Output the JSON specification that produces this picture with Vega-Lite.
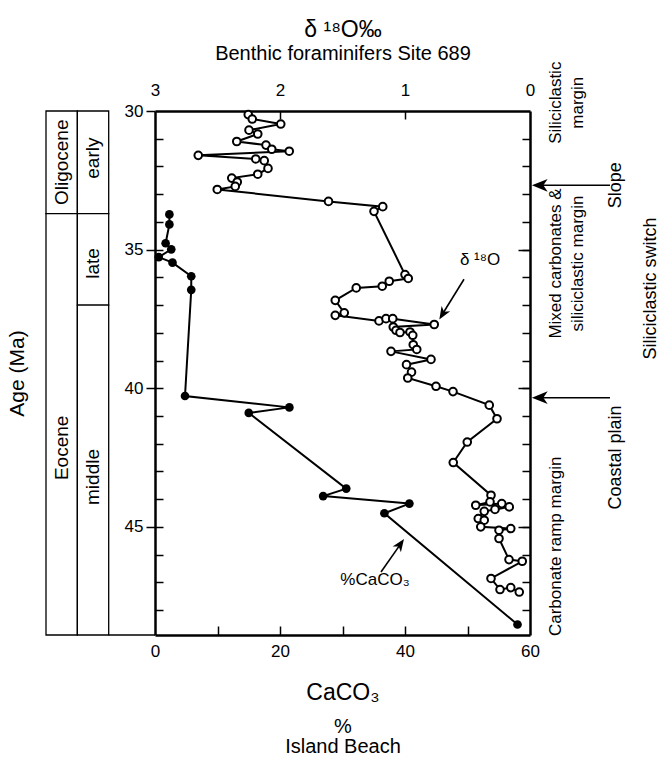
{
  "$schema": "https://vega.github.io/schema/vega-lite/v6.json",
  "width": 375,
  "height": 524,
  "autosize": {"type": "none"},
  "padding": {"left": 155, "top": 111, "right": 132, "bottom": 122},
  "background": "white",
  "config": {
    "font": "Liberation Sans",
    "view": {"stroke": null},
    "axis": {"labelFont": "Liberation Sans", "titleFont": "Liberation Sans", "labelColor": "black", "titleColor": "black", "tickColor": "black", "domainColor": "black", "titleFontWeight": "normal", "grid": false, "labelFlush": false, "labelOverlap": false, "labelBound": false}
  },
  "datasets": {
    "caco3": [
      {"i": 1, "caco3": 2.3, "age": 33.73}, {"i": 2, "caco3": 2.3, "age": 34.09}, {"i": 3, "caco3": 1.7, "age": 34.77}, {"i": 4, "caco3": 2.6, "age": 34.99},
      {"i": 5, "caco3": 0.6, "age": 35.27}, {"i": 6, "caco3": 2.8, "age": 35.47}, {"i": 7, "caco3": 5.8, "age": 35.96}, {"i": 8, "caco3": 5.8, "age": 36.45},
      {"i": 9, "caco3": 4.8, "age": 40.28}, {"i": 10, "caco3": 21.5, "age": 40.69}, {"i": 11, "caco3": 15.0, "age": 40.89}, {"i": 12, "caco3": 30.6, "age": 43.62},
      {"i": 13, "caco3": 26.9, "age": 43.89}, {"i": 14, "caco3": 40.7, "age": 44.16}, {"i": 15, "caco3": 36.7, "age": 44.51}, {"i": 16, "caco3": 58.0, "age": 48.52}
    ],
    "d18o": [
      {"i": 1, "d18o": 2.254, "age": 30.13}, {"i": 2, "d18o": 2.222, "age": 30.29}, {"i": 3, "d18o": 1.994, "age": 30.47}, {"i": 4, "d18o": 2.248, "age": 30.69},
      {"i": 5, "d18o": 2.178, "age": 30.83}, {"i": 6, "d18o": 2.346, "age": 31.10}, {"i": 7, "d18o": 2.112, "age": 31.23}, {"i": 8, "d18o": 2.066, "age": 31.38},
      {"i": 9, "d18o": 1.926, "age": 31.45}, {"i": 10, "d18o": 2.654, "age": 31.60}, {"i": 11, "d18o": 2.194, "age": 31.73}, {"i": 12, "d18o": 2.126, "age": 31.79},
      {"i": 13, "d18o": 2.096, "age": 32.07}, {"i": 14, "d18o": 2.178, "age": 32.28}, {"i": 15, "d18o": 2.386, "age": 32.42}, {"i": 16, "d18o": 2.342, "age": 32.56},
      {"i": 17, "d18o": 2.358, "age": 32.72}, {"i": 18, "d18o": 2.502, "age": 32.83}, {"i": 19, "d18o": 1.612, "age": 33.26}, {"i": 20, "d18o": 1.178, "age": 33.45},
      {"i": 21, "d18o": 1.248, "age": 33.62}, {"i": 22, "d18o": 1.000, "age": 35.90}, {"i": 23, "d18o": 0.974, "age": 36.04}, {"i": 24, "d18o": 1.126, "age": 36.14},
      {"i": 25, "d18o": 1.182, "age": 36.32}, {"i": 26, "d18o": 1.390, "age": 36.38}, {"i": 27, "d18o": 1.558, "age": 36.83}, {"i": 28, "d18o": 1.486, "age": 37.28},
      {"i": 29, "d18o": 1.558, "age": 37.37}, {"i": 30, "d18o": 1.208, "age": 37.57}, {"i": 31, "d18o": 1.152, "age": 37.49}, {"i": 32, "d18o": 1.098, "age": 37.49},
      {"i": 33, "d18o": 0.766, "age": 37.70}, {"i": 34, "d18o": 1.094, "age": 37.79}, {"i": 35, "d18o": 1.072, "age": 37.91}, {"i": 36, "d18o": 1.040, "age": 37.99},
      {"i": 37, "d18o": 0.960, "age": 37.97}, {"i": 38, "d18o": 0.938, "age": 38.09}, {"i": 39, "d18o": 0.934, "age": 38.43}, {"i": 40, "d18o": 0.906, "age": 38.60},
      {"i": 41, "d18o": 1.112, "age": 38.67}, {"i": 42, "d18o": 0.792, "age": 38.96}, {"i": 43, "d18o": 0.988, "age": 39.15}, {"i": 44, "d18o": 0.948, "age": 39.42},
      {"i": 45, "d18o": 0.978, "age": 39.63}, {"i": 46, "d18o": 0.752, "age": 39.93}, {"i": 47, "d18o": 0.616, "age": 40.12}, {"i": 48, "d18o": 0.326, "age": 40.61},
      {"i": 49, "d18o": 0.264, "age": 41.10}, {"i": 50, "d18o": 0.502, "age": 41.94}, {"i": 51, "d18o": 0.614, "age": 42.68}, {"i": 52, "d18o": 0.312, "age": 43.86},
      {"i": 53, "d18o": 0.320, "age": 44.10}, {"i": 54, "d18o": 0.434, "age": 44.22}, {"i": 55, "d18o": 0.226, "age": 44.16}, {"i": 56, "d18o": 0.166, "age": 44.28},
      {"i": 57, "d18o": 0.280, "age": 44.37}, {"i": 58, "d18o": 0.366, "age": 44.44}, {"i": 59, "d18o": 0.414, "age": 44.70}, {"i": 60, "d18o": 0.366, "age": 44.76},
      {"i": 61, "d18o": 0.394, "age": 45.00}, {"i": 62, "d18o": 0.154, "age": 45.06}, {"i": 63, "d18o": 0.248, "age": 45.12}, {"i": 64, "d18o": 0.248, "age": 45.42},
      {"i": 65, "d18o": 0.168, "age": 46.18}, {"i": 66, "d18o": 0.062, "age": 46.24}, {"i": 67, "d18o": 0.312, "age": 46.86}, {"i": 68, "d18o": 0.240, "age": 47.26},
      {"i": 69, "d18o": 0.154, "age": 47.19}, {"i": 70, "d18o": 0.086, "age": 47.35}
    ],
    "boxes": [
      {"col": "epoch", "a1": 30, "a2": 33.7}, {"col": "epoch", "a1": 33.7, "a2": 48.9},
      {"col": "sub", "a1": 30, "a2": 33.7}, {"col": "sub", "a1": 33.7, "a2": 37.0}, {"col": "sub", "a1": 37.0, "a2": 48.9}
    ],
    "stratlabels": [
      {"col": "epoch", "mid": 31.85, "t": "Oligocene"}, {"col": "epoch", "mid": 42.15, "t": "Eocene"},
      {"col": "sub", "mid": 31.7, "t": "early"}, {"col": "sub", "mid": 35.5, "t": "late"}, {"col": "sub", "mid": 43.2, "t": "middle"}
    ],
    "lines": [
      {"x1": 72.8, "x2": 61.5, "a1": 32.68, "a2": 32.68},
      {"x1": 72.8, "x2": 61.5, "a1": 40.34, "a2": 40.34},
      {"x1": 49.44, "x2": 46.2, "a1": 36.07, "a2": 37.25},
      {"x1": 36.16, "x2": 39.2, "a1": 46.63, "a2": 45.65},
      {"x1": -7.42, "x2": 0, "a1": 48.9, "a2": 48.9}
    ],
    "vnotes1": [
      {"t": "Siliciclastic", "x": 64.2, "age": 29.7},
      {"t": "margin", "x": 67.7, "age": 29.7},
      {"t": "Mixed carbonates &", "x": 64.2, "age": 35.5},
      {"t": "siliciclastic margin", "x": 67.7, "age": 35.5},
      {"t": "Carbonate ramp margin", "x": 64.2, "age": 45.7}
    ],
    "vnotes2": [
      {"t": "Slope", "x": 73.8, "age": 32.68},
      {"t": "Coastal plain", "x": 73.8, "age": 42.5},
      {"t": "Siliciclastic switch", "x": 79.4, "age": 36.4}
    ],
    "hnotes": [
      {"t": "δ ¹⁸O", "x": 52.0, "age": 35.38},
      {"t": "%CaCO₃", "x": 35.2, "age": 46.92}
    ],
    "headsLeft": [
      {"x": 60.3, "age": 32.68}, {"x": 60.3, "age": 40.34}
    ],
    "headD": [{"x": 45.49, "age": 37.52}],
    "headC": [{"x": 39.84, "age": 45.44}]
  },
  "layer": [
    {
      "data": {"name": "boxes"},
      "mark": {"type": "rect", "fill": "white", "stroke": "black", "strokeWidth": 1.3},
      "encoding": {
        "x": {"field": "col", "type": "nominal", "scale": {"domain": ["epoch", "sub"], "range": [-109, -46.3], "paddingInner": 0, "paddingOuter": 0}, "axis": null},
        "y": {"field": "a1", "type": "quantitative", "scale": {"domain": [30, 48.9], "reverse": true, "nice": false, "zero": false},
              "axis": {"orient": "left", "values": [31, 32, 33, 34, 35, 36, 37, 38, 39, 40, 41, 42, 43, 44, 45, 46, 47, 48], "tickSize": -8, "tickWidth": 1.5, "labels": false, "domain": false, "title": null}},
        "y2": {"field": "a2"}
      }
    },
    {
      "data": {"name": "stratlabels"},
      "mark": {"type": "text", "angle": 270, "fontSize": 19, "baseline": "middle", "align": "center", "color": "black"},
      "encoding": {
        "x": {"field": "col", "type": "nominal", "scale": {"domain": ["epoch", "sub"], "range": [-109, -46.3], "paddingInner": 0, "paddingOuter": 0}, "axis": null},
        "y": {"field": "mid", "type": "quantitative", "scale": {"domain": [30, 48.9], "reverse": true, "nice": false, "zero": false}, "axis": null},
        "text": {"field": "t"}
      }
    },
    {
      "data": {"name": "caco3"},
      "encoding": {
        "x": {"field": "caco3", "type": "quantitative", "scale": {"domain": [0, 60], "nice": false, "zero": false},
              "axis": {"orient": "bottom", "values": [0, 20, 40, 60], "ticks": false, "labelFontSize": 17, "labelPadding": 8, "domainWidth": 2.5, "title": "CaCO₃", "titleFontSize": 23, "titlePadding": 22}},
        "y": {"field": "age", "type": "quantitative", "scale": {"domain": [30, 48.9], "reverse": true, "nice": false, "zero": false},
              "axis": {"orient": "left", "values": [30, 35, 40, 45], "tickSize": 9, "tickWidth": 1.5, "labelFontSize": 17, "labelPadding": 3, "domainWidth": 2.5, "title": "Age (Ma)", "titleFontSize": 21, "titlePadding": 97}},
        "order": {"field": "i", "type": "quantitative"}
      },
      "layer": [
        {"mark": {"type": "line", "color": "black", "strokeWidth": 2}},
        {"mark": {"type": "point", "shape": "circle", "filled": true, "color": "black", "opacity": 1, "size": 75}}
      ]
    },
    {
      "data": {"name": "d18o"},
      "encoding": {
        "x": {"field": "d18o", "type": "quantitative", "scale": {"domain": [0, 3], "reverse": true, "nice": false, "zero": false},
              "axis": {"orient": "top", "values": [0, 1, 2, 3], "ticks": false, "labelFontSize": 17, "labelPadding": 12, "domainWidth": 2.5, "title": "Benthic foraminifers Site 689", "titleFontSize": 20, "titlePadding": 18}},
        "y": {"field": "age", "type": "quantitative", "scale": {"domain": [30, 48.9], "reverse": true, "nice": false, "zero": false},
              "axis": {"orient": "right", "values": [31, 32, 33, 34, 35, 36, 37, 38, 39, 40, 41, 42, 43, 44, 45, 46, 47, 48], "tickSize": -8, "tickWidth": 1.5, "labels": false, "domainWidth": 2.5, "title": null}},
        "order": {"field": "i", "type": "quantitative"}
      },
      "layer": [
        {"mark": {"type": "line", "color": "black", "strokeWidth": 2}},
        {"mark": {"type": "point", "shape": "circle", "filled": true, "fill": "white", "stroke": "black", "strokeWidth": 2, "opacity": 1, "size": 58}}
      ]
    },
    {
      "data": {"name": "lines"},
      "mark": {"type": "rule", "color": "black", "strokeWidth": 1.6},
      "encoding": {
        "x": {"field": "x1", "type": "quantitative", "scale": {"domain": [0, 60], "nice": false, "zero": false},
              "axis": {"orient": "bottom", "values": [10, 20, 30, 40, 50], "tickSize": -9, "tickWidth": 1.5, "labels": false, "domain": false, "title": null}},
        "x2": {"field": "x2"},
        "y": {"field": "a1", "type": "quantitative", "scale": {"domain": [30, 48.9], "reverse": true, "nice": false, "zero": false}, "axis": null},
        "y2": {"field": "a2"}
      }
    },
    {
      "data": {"name": "vnotes1"},
      "mark": {"type": "text", "angle": 270, "fontSize": 17, "baseline": "middle", "align": "center", "color": "black"},
      "encoding": {
        "x": {"field": "x", "type": "quantitative", "scale": {"domain": [0, 60], "nice": false, "zero": false},
              "axis": {"orient": "bottom", "domain": false, "ticks": false, "labels": false, "title": ["%", "Island Beach"], "titleFontSize": 20, "titleLineHeight": 20, "titlePadding": 81}},
        "y": {"field": "age", "type": "quantitative", "scale": {"domain": [30, 48.9], "reverse": true, "nice": false, "zero": false}, "axis": null},
        "text": {"field": "t"}
      }
    },
    {
      "data": {"name": "vnotes2"},
      "mark": {"type": "text", "angle": 270, "fontSize": 18, "baseline": "middle", "align": "center", "color": "black"},
      "encoding": {
        "x": {"field": "x", "type": "quantitative", "scale": {"domain": [0, 60], "nice": false, "zero": false}, "axis": null},
        "y": {"field": "age", "type": "quantitative", "scale": {"domain": [30, 48.9], "reverse": true, "nice": false, "zero": false},
              "axis": {"orient": "right", "values": [35, 40, 45], "tickSize": -12, "tickWidth": 1.5, "labels": false, "domain": false, "title": null}},
        "text": {"field": "t"}
      }
    },
    {
      "data": {"name": "hnotes"},
      "mark": {"type": "text", "fontSize": 17, "baseline": "middle", "align": "center", "color": "black"},
      "encoding": {
        "x": {"field": "x", "type": "quantitative", "scale": {"domain": [0, 60], "nice": false, "zero": false},
              "axis": {"orient": "top", "values": [20, 40], "tickSize": -8, "tickWidth": 1.5, "labels": false, "domain": false, "title": null}},
        "y": {"field": "age", "type": "quantitative", "scale": {"domain": [30, 48.9], "reverse": true, "nice": false, "zero": false}, "axis": null},
        "text": {"field": "t"}
      }
    },
    {
      "data": {"name": "headsLeft"},
      "mark": {"type": "point", "shape": "M0,0L2,-0.8L1.45,0L2,0.8Z", "filled": true, "color": "black", "opacity": 1, "size": 250, "angle": 0, "strokeWidth": 0},
      "encoding": {
        "x": {"field": "x", "type": "quantitative", "scale": {"domain": [0, 60], "nice": false, "zero": false},
              "axis": {"orient": "top", "domain": false, "ticks": false, "labels": false, "title": "δ ¹⁸O‰", "titleFontSize": 23, "titlePadding": 70}},
        "y": {"field": "age", "type": "quantitative", "scale": {"domain": [30, 48.9], "reverse": true, "nice": false, "zero": false}, "axis": null}
      }
    },
    {
      "data": {"name": "headD"},
      "mark": {"type": "point", "shape": "M0,0L2,-0.8L1.45,0L2,0.8Z", "filled": true, "color": "black", "opacity": 1, "size": 160, "angle": 301.5, "strokeWidth": 0},
      "encoding": {
        "x": {"field": "x", "type": "quantitative", "scale": {"domain": [0, 60], "nice": false, "zero": false}, "axis": null},
        "y": {"field": "age", "type": "quantitative", "scale": {"domain": [30, 48.9], "reverse": true, "nice": false, "zero": false}, "axis": null}
      }
    },
    {
      "data": {"name": "headC"},
      "mark": {"type": "point", "shape": "M0,0L2,-0.8L1.45,0L2,0.8Z", "filled": true, "color": "black", "opacity": 1, "size": 160, "angle": 124.9, "strokeWidth": 0},
      "encoding": {
        "x": {"field": "x", "type": "quantitative", "scale": {"domain": [0, 60], "nice": false, "zero": false}, "axis": null},
        "y": {"field": "age", "type": "quantitative", "scale": {"domain": [30, 48.9], "reverse": true, "nice": false, "zero": false}, "axis": null}
      }
    }
  ],
  "resolve": {"scale": {"x": "independent", "y": "independent"}}
}
